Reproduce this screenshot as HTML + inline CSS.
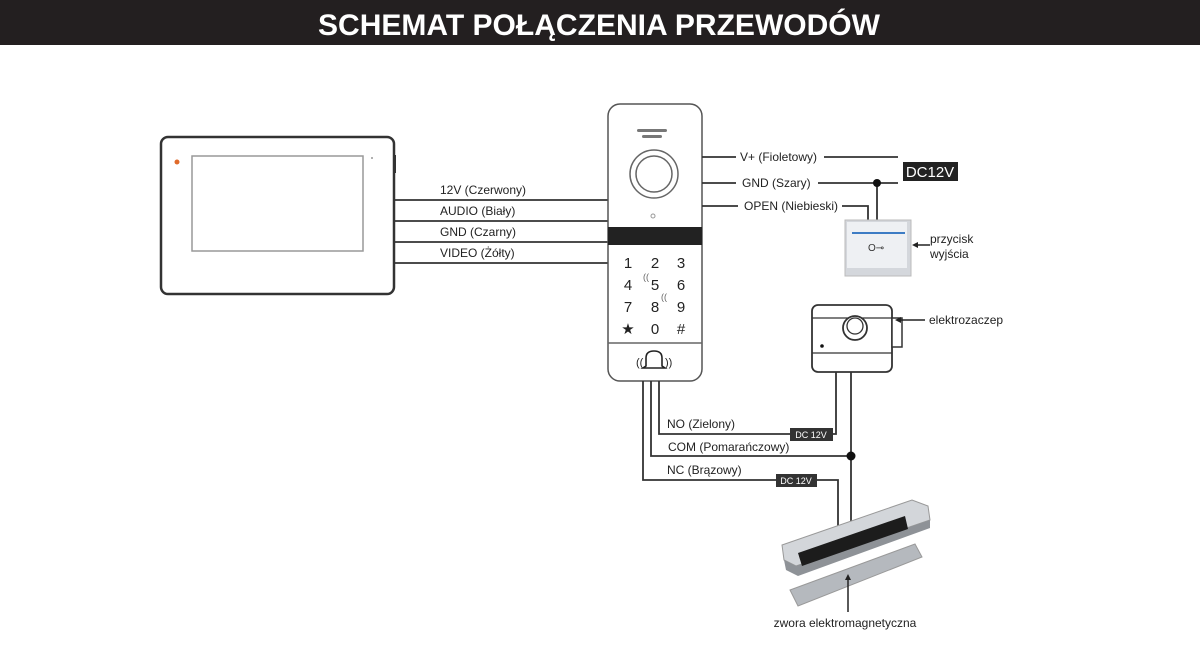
<!DOCTYPE html>
<html><head><meta charset="utf-8"><style>
html,body{margin:0;padding:0;background:#fff;width:1200px;height:658px;overflow:hidden}
svg{display:block}
text{font-family:"Liberation Sans",sans-serif;fill:#222}
</style></head><body>
<svg width="1200" height="658" viewBox="0 0 1200 658">
<rect x="0" y="0" width="1200" height="45" fill="#231f20"/>
<text x="318" y="35" font-size="30" font-weight="bold" textLength="562" lengthAdjust="spacingAndGlyphs" style="fill:#fff">SCHEMAT POŁĄCZENIA PRZEWODÓW</text>

<!-- monitor -->
<rect x="161" y="137" width="233" height="157" rx="7" fill="#fff" stroke="#333" stroke-width="2.5"/>
<rect x="192" y="156" width="171" height="95" fill="#fff" stroke="#999" stroke-width="1.5"/>
<circle cx="177" cy="162" r="2.5" fill="#e06a2a"/>
<rect x="393" y="155" width="3" height="18" fill="#333"/>
<circle cx="372" cy="158" r="1" fill="#999"/>

<g stroke="#333" stroke-width="1.8" fill="none">
<line x1="394" y1="200" x2="609" y2="200"/>
<line x1="394" y1="221" x2="609" y2="221"/>
<line x1="394" y1="242" x2="609" y2="242"/>
<line x1="394" y1="263" x2="609" y2="263"/>
</g>
<g font-size="12">
<text x="440" y="194">12V (Czerwony)</text>
<text x="440" y="215">AUDIO (Biały)</text>
<text x="440" y="236">GND (Czarny)</text>
<text x="440" y="257">VIDEO (Żółty)</text>
</g>

<!-- door station -->
<rect x="608" y="104" width="94" height="277" rx="12" fill="#fff" stroke="#555" stroke-width="1.5"/>
<rect x="637" y="129" width="30" height="3" rx="1.5" fill="#777"/>
<rect x="642" y="135" width="20" height="3" rx="1.5" fill="#777"/>
<circle cx="654" cy="174" r="24" fill="#fff" stroke="#666" stroke-width="1.5"/>
<circle cx="654" cy="174" r="18" fill="#fff" stroke="#666" stroke-width="1.5"/>
<circle cx="653" cy="216" r="2" fill="none" stroke="#999"/>
<rect x="608" y="227" width="94" height="18" fill="#222"/>
<g font-size="15" text-anchor="middle" style="fill:#333">
<text x="628" y="268">1</text><text x="655" y="268">2</text><text x="681" y="268">3</text>
<text x="628" y="290">4</text><text x="655" y="290">5</text><text x="681" y="290">6</text>
<text x="628" y="312">7</text><text x="655" y="312">8</text><text x="681" y="312">9</text>
<text x="628" y="334">★</text><text x="655" y="334">0</text><text x="681" y="334">#</text>
</g>
<text x="643" y="280" font-size="9" style="fill:#666">((</text>
<text x="661" y="300" font-size="9" style="fill:#666">((</text>
<line x1="608" y1="343" x2="702" y2="343" stroke="#666" stroke-width="1.5"/>
<path d="M646 366 L646 358 Q646 351 654 351 Q662 351 662 358 L662 366 L665 368 L643 368 Z" fill="none" stroke="#222" stroke-width="1.6"/>
<text x="636" y="366" font-size="11" style="fill:#222">((</text>
<text x="665" y="366" font-size="11" style="fill:#222">))</text>

<!-- right wires -->
<g stroke="#333" stroke-width="1.8" fill="none">
<line x1="702" y1="157" x2="736" y2="157"/><line x1="824" y1="157" x2="898" y2="157"/>
<line x1="702" y1="183" x2="736" y2="183"/><line x1="818" y1="183" x2="898" y2="183"/>
<line x1="702" y1="206" x2="738" y2="206"/><polyline points="842,206 868,206 868,221"/>
<line x1="877" y1="183" x2="877" y2="221"/>
</g>
<circle cx="877" cy="183" r="4" fill="#111"/>
<g font-size="12">
<text x="740" y="161">V+ (Fioletowy)</text>
<text x="742" y="187">GND (Szary)</text>
<text x="744" y="210">OPEN (Niebieski)</text>
</g>
<rect x="903" y="162" width="55" height="19" fill="#222"/>
<text x="930" y="177" text-anchor="middle" font-size="15" style="fill:#fff">DC12V</text>

<!-- exit button -->
<rect x="845" y="220" width="66" height="56" fill="#d4d7dc" stroke="#bbb"/>
<rect x="847" y="222" width="60" height="46" fill="#eef0f3"/>
<line x1="852" y1="233" x2="905" y2="233" stroke="#3d7cc4" stroke-width="2"/>
<text x="868" y="251" font-size="10" style="fill:#333">O⊸</text>
<line x1="930" y1="245" x2="914" y2="245" stroke="#222" stroke-width="1.5"/>
<polygon points="912,245 918,242 918,248" fill="#222"/>
<text x="930" y="243" font-size="12">przycisk</text>
<text x="930" y="258" font-size="12">wyjścia</text>

<!-- elektrozaczep -->
<rect x="812" y="305" width="80" height="67" rx="6" fill="#fff" stroke="#333" stroke-width="1.8"/>
<line x1="812" y1="318" x2="892" y2="318" stroke="#333" stroke-width="1.3"/>
<line x1="812" y1="353" x2="892" y2="353" stroke="#333" stroke-width="1.3"/>
<rect x="892" y="318" width="10" height="29" fill="#fff" stroke="#333" stroke-width="1.5"/>
<circle cx="855" cy="328" r="12" fill="#fff" stroke="#333" stroke-width="1.8"/>
<circle cx="855" cy="326" r="8" fill="#fff" stroke="#333" stroke-width="1.3"/>
<circle cx="822" cy="346" r="1.8" fill="#111"/>
<line x1="925" y1="320" x2="898" y2="320" stroke="#222" stroke-width="1.5"/>
<polygon points="895,320 901,317 901,323" fill="#222"/>
<text x="929" y="324" font-size="12">elektrozaczep</text>

<!-- bottom wiring -->
<g stroke="#333" stroke-width="1.8" fill="none">
<polyline points="659,381 659,434 790,434"/>
<polyline points="833,434 836,434 836,372"/>
<polyline points="651,381 651,456 851,456"/>
<line x1="851" y1="372" x2="851" y2="522"/>
<polyline points="643,381 643,480 776,480"/>
<polyline points="817,480 838,480 838,528"/>
</g>
<circle cx="851" cy="456" r="4.5" fill="#111"/>
<rect x="790" y="428" width="43" height="13" fill="#333"/>
<text x="811" y="438" text-anchor="middle" font-size="9" style="fill:#fff">DC 12V</text>
<rect x="776" y="474" width="41" height="13" fill="#333"/>
<text x="796" y="484" text-anchor="middle" font-size="9" style="fill:#fff">DC 12V</text>
<g font-size="12">
<text x="667" y="428">NO (Zielony)</text>
<text x="668" y="451">COM (Pomarańczowy)</text>
<text x="667" y="474">NC (Brązowy)</text>
</g>

<!-- magnetic lock -->
<polygon points="782,545 912,500 928,506 930,520 796,566 784,560" fill="#d3d6da" stroke="#999"/>
<polygon points="784,560 796,566 930,520 930,528 798,576 786,570" fill="#8e9297"/>
<polygon points="798,553 905,516 908,529 802,566" fill="#1c1c1c"/>
<polygon points="790,590 915,544 922,557 798,606" fill="#b5b9be" stroke="#999"/>
<line x1="848" y1="612" x2="848" y2="577" stroke="#222" stroke-width="1.5"/>
<polygon points="848,574 845,580 851,580" fill="#222"/>
<text x="845" y="627" text-anchor="middle" font-size="12">zwora elektromagnetyczna</text>
</svg>
</body></html>
